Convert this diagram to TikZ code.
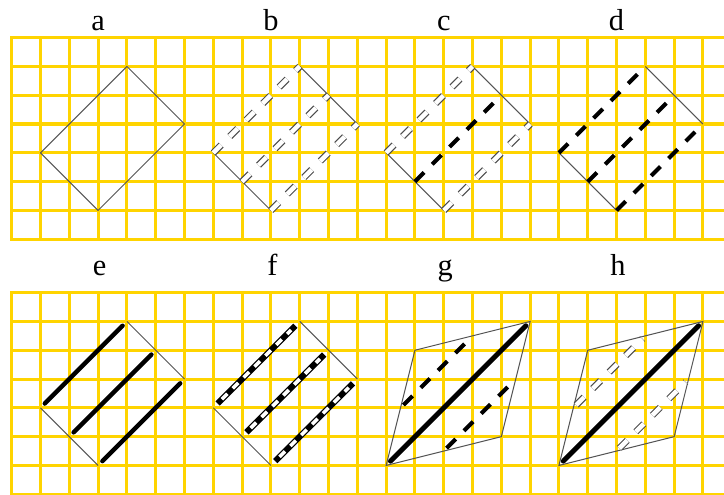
\documentclass[tikz,border=0pt]{standalone}
\usepackage{fontspec}
\setmainfont{Liberation Serif}
\usepackage{xcolor}
\usetikzlibrary{calc}

\definecolor{gridyellow}{RGB}{255,212,0}
\definecolor{edgegray}{RGB}{85,85,85}

\tikzset{
  gridline/.style={gridyellow, line width=1.5pt, line cap=rect},
  edge/.style={edgegray, line width=0.5pt},
  twinedge/.style={draw=edgegray!90!black, line width=0.6pt, double=white, double distance=2.2pt, dash pattern=on 5.5pt off 6pt},
  boldedge/.style={black, line width=2pt, dash pattern=on 6.4pt off 5.7pt},
  solidbar/.style={black, line width=2.2pt, line cap=round, shorten <=3pt, shorten >=3pt},
  stripebar/.style={black, line width=3pt, shorten <=3pt, shorten >=3pt,
    postaction={draw=white, line width=1.8pt, dash pattern=on 3.8pt off 3.8pt, shorten <=6pt, shorten >=6pt}},
  letter/.style={anchor=base, inner sep=0pt, font=\fontsize{15}{17}\selectfont}
}

\begin{document}
\begin{tikzpicture}[x=0.5cm, y=0.5cm]
\useasboundingbox (-0.406,0) rectangle (24.73,17.16);

% Gitter
\foreach \sy in {0,8.854}{
  \foreach \r in {0,...,7}
    \draw[gridline] (0,\sy+\r) -- (24.73,\sy+\r);
  \foreach \c in {0,...,24}
    \draw[gridline] (\c,\sy) -- (\c,\sy+7);
}

% Buchstaben
\foreach \ox/\nm in {0/a,6/b,12/c,18/d}
  \node[letter] (lab\nm) at (\ox+3,16.1) {\nm};
\foreach \ox/\nm in {0/e,6/f,12/g,18/h}
  \node[letter] (lab\nm) at (\ox+3.05,7.6) {\nm};

% Rechtecke a-f
\foreach \ox/\oy/\nm in {0/8.854/a,6/8.854/b,12/8.854/c,18/8.854/d,0/0/e,6/0/f}{
  \coordinate (\nm L) at (\ox+1,\oy+3);
  \coordinate (\nm T) at (\ox+4,\oy+6);
  \coordinate (\nm R) at (\ox+6,\oy+4);
  \coordinate (\nm B) at (\ox+3,\oy+1);
  \coordinate (\nm M) at (\ox+2,\oy+2);
  \coordinate (\nm N) at (\ox+5,\oy+5);
}

% a
\draw[edge] (aL) -- (aT) -- (aR) -- (aB) -- cycle;
% b
\draw[edge] (bT) -- (bR) (bL) -- (bB);
\draw[twinedge] (bL) -- (bT) (bM) -- (bN) (bB) -- (bR);
% c
\draw[edge] (cT) -- (cR) (cL) -- (cB);
\draw[twinedge] (cL) -- (cT) (cB) -- (cR);
\draw[boldedge] (cM) -- (cN);
% d
\draw[edge] (dT) -- (dR) (dL) -- (dB);
\draw[boldedge] (dL) -- (dT) (dM) -- (dN) (dB) -- (dR);
% e
\draw[edge] (eT) -- (eR) (eL) -- (eB);
\foreach \p/\q in {L/T,M/N,B/R}
  \draw[solidbar] (e\p) -- (e\q);
% f
\draw[edge] (fT) -- (fR) (fL) -- (fB);
\foreach \p/\q in {L/T,M/N,B/R}
  \draw[stripebar] (f\p) -- (f\q);

% Parallelogramme g, h
\foreach \ox/\nm in {12/g,18/h}{
  \coordinate (\nm A) at (\ox+1,1);
  \coordinate (\nm B) at (\ox+5,2);
  \coordinate (\nm C) at (\ox+6,6);
  \coordinate (\nm D) at (\ox+2,5);
  \draw[edge] (\nm A) -- (\nm B) -- (\nm C) -- (\nm D) -- cycle;
  \draw[solidbar, line width=2.4pt] (\nm A) -- (\nm C);
}
\draw[boldedge, shorten <=2pt, shorten >=2pt] ($(gA)!0.5!(gD)$) -- ($(gD)!0.5!(gC)$);
\draw[boldedge, shorten <=2pt, shorten >=2pt] ($(gA)!0.5!(gB)$) -- ($(gB)!0.5!(gC)$);
\draw[twinedge, shorten <=2pt, shorten >=2pt] ($(hA)!0.5!(hD)$) -- ($(hD)!0.5!(hC)$);
\draw[twinedge, shorten <=2pt, shorten >=2pt] ($(hA)!0.5!(hB)$) -- ($(hB)!0.5!(hC)$);
\end{tikzpicture}
\end{document}
